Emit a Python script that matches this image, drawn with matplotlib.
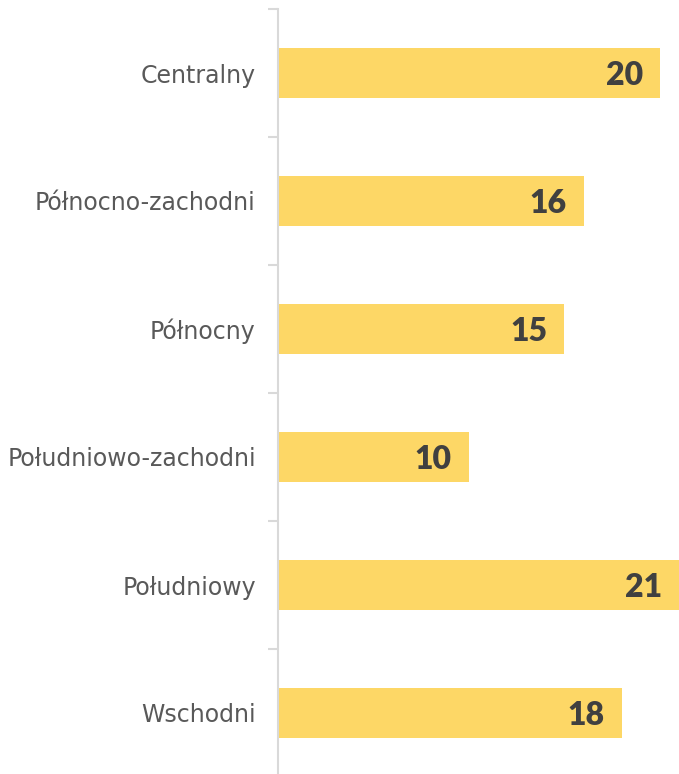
import matplotlib
matplotlib.use("Agg")
import matplotlib.pyplot as plt
import numpy as np

categories = ["Centralny", "Północno-zachodni", "Północny", "Południowo-zachodni", "Południowy", "Wschodni"]
values = [20, 16, 15, 10, 21, 18]

W, H = 679, 774
fig = plt.figure(figsize=(W/100, H/100), dpi=100)
left = 278/W
top_px = 9
ax = fig.add_axes([left, 1 - (top_px + 768)/H, 1 - left, 768/H])

y = np.arange(len(categories))
ax.barh(y, values, height=0.39, color="#FDD766", zorder=2)
ax.set_xlim(0, 21)
ax.set_ylim(len(categories) - 0.5, -0.5)

for yi, v in zip(y, values):
    ax.text(v - 0.9, yi + 0.02, str(v), ha="right", va="center", fontsize=23,
            fontweight="heavy", color="#404040", zorder=3,
            family=["Lato", "DejaVu Sans"])

for s in ["top", "right", "bottom"]:
    ax.spines[s].set_visible(False)
ax.spines["left"].set_color("#D9D9D9")
ax.spines["left"].set_linewidth(1.5)
ax.xaxis.set_visible(False)

ax.set_yticks(y)
ax.set_yticklabels(categories, fontsize=17, color="#595959")
ax.tick_params(axis="y", which="major", length=0, pad=16)
ax.set_yticks(np.arange(-0.5, len(categories) + 0.5, 1), minor=True)
ax.tick_params(axis="y", which="minor", length=7, width=1.5, color="#D9D9D9")

fig.savefig("out.png", dpi=100)
